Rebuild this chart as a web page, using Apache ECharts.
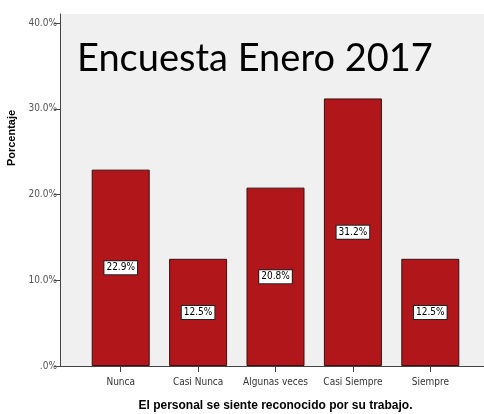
<!DOCTYPE html>
<html>
<head>
<meta charset="utf-8">
<script src="https://cdn.jsdelivr.net/npm/echarts@6/dist/echarts.min.js"></script>
<style>
  html, body { margin: 0; padding: 0; background: #fff; }
  #main { width: 484px; height: 414px; }
</style>
</head>
<body>
<div id="main"></div>
<script>
// respuestas de la encuesta
var categorias = ['Nunca', 'Casi Nunca', 'Algunas veces', 'Casi Siempre', 'Siempre'];
var porcentajes = [22.9, 12.5, 20.8, 31.2, 12.5];
var yTicks = [0, 10, 20, 30, 40];

var narrow = '"Liberation Sans Narrow", "DejaVu Sans Condensed", sans-serif';

var chart = echarts.init(document.getElementById('main'));

chart.setOption({
  backgroundColor: '#fff',
  animation: false,
  title: {
    text: 'Encuesta Enero 2017',
    left: 72,
    top: 35,
    textStyle: {
      fontFamily: 'Lato, "Open Sans", sans-serif',
      fontWeight: 'normal',
      fontSize: 38,
      color: '#000'
    }
  },
  grid: [
    // fondo gris del area de trazado
    { left: 60, right: 0, top: 14, bottom: 48, show: true, backgroundColor: '#f0f0f0', borderWidth: 0, outerBoundsMode: 'none', containLabel: false },
    // barras
    { left: 82, right: 15, top: 23, bottom: 48, outerBoundsMode: 'none', containLabel: false }
  ],
  xAxis: [
    {
      gridIndex: 0, type: 'value', min: 0, max: 1,
      axisLine: { show: true, onZero: false, lineStyle: { color: '#444', width: 1 } },
      axisTick: { show: false }, axisLabel: { show: false }, splitLine: { show: false }
    },
    {
      gridIndex: 1, type: 'category', data: categorias,
      axisLine: { show: false },
      axisTick: { show: true, alignWithLabel: true, length: 6, lineStyle: { color: '#444' } },
      axisLabel: { interval: 0, fontFamily: narrow, fontSize: 10, color: '#333', margin: 11 },
      name: 'El personal se siente reconocido por su trabajo.',
      nameLocation: 'middle',
      nameGap: 34,
      nameTextStyle: { fontFamily: 'Liberation Sans, Arial, sans-serif', fontWeight: 'bold', fontSize: 12, color: '#000' }
    }
  ],
  yAxis: [
    {
      gridIndex: 0, type: 'value', min: 0, max: 1,
      axisLine: { show: true, lineStyle: { color: '#444', width: 1 } },
      axisTick: { show: false }, axisLabel: { show: false }, splitLine: { show: false }
    },
    {
      gridIndex: 1, type: 'value', min: yTicks[0], max: yTicks[yTicks.length - 1], interval: 10,
      offset: 22,
      axisLine: { show: false },
      axisTick: { show: true, length: 6, lineStyle: { color: '#444' } },
      axisLabel: {
        fontFamily: narrow, fontSize: 10, color: '#555', margin: 3,
        formatter: function (v) { return v === 0 ? '.0%' : v.toFixed(1) + '%'; }
      },
      splitLine: { show: false }
    }
  ],
  graphic: [{
    type: 'text',
    x: 12,
    y: 138,
    rotation: Math.PI / 2,
    style: {
      text: 'Porcentaje',
      fill: '#000',
      font: 'bold 11px "Liberation Sans", Arial, sans-serif',
      textAlign: 'center',
      textVerticalAlign: 'middle'
    }
  }],
  series: [{
    type: 'bar',
    xAxisIndex: 1,
    yAxisIndex: 1,
    data: porcentajes,
    barWidth: 58,
    itemStyle: { color: '#b0161a', borderColor: '#3a1010', borderWidth: 1 },
    label: {
      show: true,
      position: 'inside',
      formatter: function (p) { return p.value.toFixed(1) + '%'; },
      fontFamily: narrow,
      fontSize: 10,
      color: '#000',
      backgroundColor: '#fff',
      borderColor: '#222',
      borderWidth: 1,
      padding: [2, 2, 1, 2]
    }
  }]
});
</script>
</body>
</html>
